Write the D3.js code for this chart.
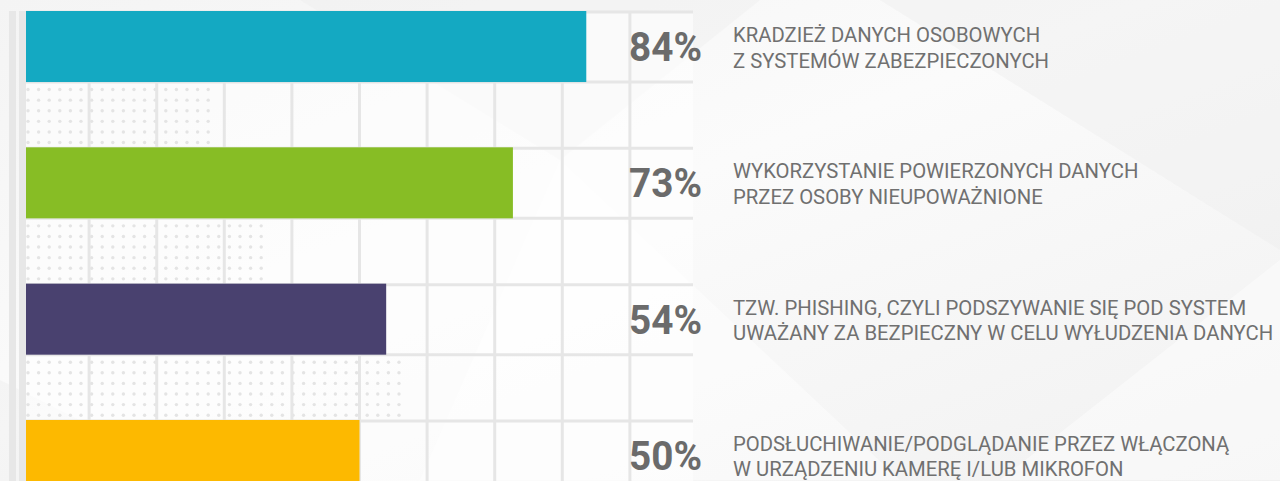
<!DOCTYPE html>
<head>
    <meta charset="utf-8">
    <script src="https://cdn.jsdelivr.net/npm/d3@7/dist/d3.min.js"></script>
    <style>
      body { margin: 0; overflow: hidden; background: #f6f6f6; }
      text { font-family: Roboto, "Noto Sans", sans-serif; }
    </style>
</head>

<body>
<div id="chart"></div>

<script>
  // values
  var categories = ["kradziez", "wykorzystanie", "phishing", "podsluch"];
  var values = [84, 73, 54, 50];
  var colors = ["#14a9c2", "#87bd25", "#49416f", "#fdb900"];
  var labelLine1 = [
    "KRADZIEŻ DANYCH OSOBOWYCH",
    "WYKORZYSTANIE POWIERZONYCH DANYCH",
    "TZW. PHISHING, CZYLI PODSZYWANIE SIĘ POD SYSTEM",
    "PODSŁUCHIWANIE/PODGLĄDANIE PRZEZ WŁĄCZONĄ"
  ];
  var labelLine2 = [
    "Z SYSTEMÓW ZABEZPIECZONYCH",
    "PRZEZ OSOBY NIEUPOWAŻNIONE",
    "UWAŻANY ZA BEZPIECZNY W CELU WYŁUDZENIA DANYCH",
    "W URZĄDZENIU KAMERĘ I/LUB MIKROFON"
  ];
  var gridTicks = [10, 20, 30, 40, 50, 60, 70, 80, 90];

  var width = 1280;
  var height = 481;

  var svg = d3.select("#chart").append("svg")
      .attr("width", width)
      .attr("height", height);

  var x = d3.scaleLinear().domain([0, 100]).range([26, 693]);
  // grid columns sit a touch wider than the bar scale in the picture
  var xGrid = d3.scaleLinear().domain([0, 100]).range([21.5, 697.5]);
  var y = d3.scaleBand().domain(categories).range([11, 491]).paddingInner(0.479).paddingOuter(0);

  //Background with faint facets
  var defs = svg.append("defs");
  var bg = defs.append("linearGradient").attr("id", "bg")
      .attr("x1", "0").attr("y1", "0").attr("x2", "1").attr("y2", "1");
  bg.append("stop").attr("offset", "0%").attr("stop-color", "#f4f4f4");
  bg.append("stop").attr("offset", "45%").attr("stop-color", "#fbfbfb");
  bg.append("stop").attr("offset", "100%").attr("stop-color", "#f1f1f1");

  svg.append("rect").attr("width", width).attr("height", height).attr("fill", "url(#bg)");

  var facets = [
    [[300, 0], [760, 0], [560, 160]],
    [[560, 160], [900, 480], [420, 480]],
    [[880, 0], [1280, 0], [1280, 250]],
    [[1000, 480], [1280, 260], [1280, 480]],
    [[0, 380], [200, 481], [0, 481]]
  ];
  svg.selectAll(".facet").data(facets).enter().append("polygon")
      .attr("class", "facet")
      .attr("points", function(d) { return d.join(" "); })
      .attr("fill", function(d, i) { return i % 2 ? "#ffffff" : "#eeeeee"; })
      .attr("opacity", 0.45);

  // lighter area behind the grid
  svg.append("rect")
      .attr("x", x(0)).attr("y", 11)
      .attr("width", x(100) - x(0)).attr("height", height - 11)
      .attr("fill", "#ffffff").attr("opacity", 0.55);

  //Left stripes
  svg.selectAll(".stripe").data([9, 19]).enter().append("rect")
      .attr("class", "stripe")
      .attr("x", function(d) { return d; })
      .attr("y", 11)
      .attr("width", 7)
      .attr("height", height - 11)
      .attr("fill", "#e7e7e7");

  //Dotted pattern in the gaps between bars
  var dotReach = [210, 262, 400];
  var dots = [];
  dotReach.forEach(function(reach, i) {
    var top = y(categories[i]) + y.bandwidth();
    d3.range(28, reach, 10.6).forEach(function(dx) {
      d3.range(top + 7.5, top + 63, 10.6).forEach(function(dy) {
        dots.push([dx, dy]);
      });
    });
  });
  svg.selectAll(".dot").data(dots).enter().append("circle")
      .attr("class", "dot")
      .attr("cx", function(d) { return d[0]; })
      .attr("cy", function(d) { return d[1]; })
      .attr("r", 1.7)
      .attr("fill", "#e4e4e4");

  //Grid
  svg.selectAll(".vgrid").data(gridTicks).enter().append("line")
      .attr("class", "vgrid")
      .attr("x1", function(d) { return xGrid(d); })
      .attr("x2", function(d) { return xGrid(d); })
      .attr("y1", 11).attr("y2", height)
      .attr("stroke", "#e6e6e6").attr("stroke-width", 3);

  var edges = [];
  categories.forEach(function(c) { edges.push(y(c) + 1); edges.push(y(c) + y.bandwidth()); });
  svg.selectAll(".hgrid").data(edges).enter().append("line")
      .attr("class", "hgrid")
      .attr("x1", x(0)).attr("x2", x(100))
      .attr("y1", function(d) { return d; })
      .attr("y2", function(d) { return d; })
      .attr("stroke", "#e6e6e6").attr("stroke-width", 3);

  //Bars
  svg.selectAll(".bar").data(values).enter().append("rect")
      .attr("class", "bar")
      .attr("x", x(0))
      .attr("y", function(d, i) { return y(categories[i]); })
      .attr("width", function(d) { return x(d) - x(0); })
      .attr("height", y.bandwidth())
      .attr("fill", function(d, i) { return colors[i]; });

  //Percent labels
  svg.selectAll(".pct").data(values).enter().append("text")
      .attr("class", "pct")
      .attr("x", 629)
      .attr("y", function(d, i) { return y(categories[i]) + 50; })
      .attr("font-size", "41px")
      .attr("font-weight", 700)
      .attr("fill", "#6b6b6b")
      .attr("textLength", 73)
      .attr("lengthAdjust", "spacingAndGlyphs")
      .text(function(d) { return d + "%"; });

  //Descriptions
  var desc = svg.selectAll(".desc").data(categories).enter().append("text")
      .attr("class", "desc")
      .attr("x", 733)
      .attr("y", function(d) { return y(d) + 31; })
      .attr("font-size", "20.3px")
      .attr("fill", "#707070");
  desc.append("tspan").attr("x", 733).text(function(d, i) { return labelLine1[i]; });
  desc.append("tspan").attr("x", 733).attr("dy", 25.5).text(function(d, i) { return labelLine2[i]; });
</script>
</body>
</html>
